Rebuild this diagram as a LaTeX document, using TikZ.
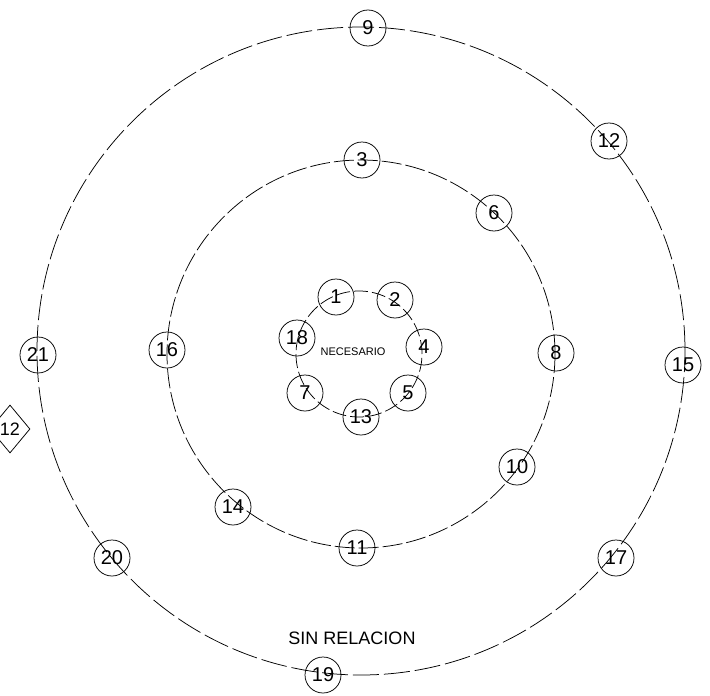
\documentclass[tikz,border=0pt]{standalone}
\usepackage{fontspec}
\setmainfont{Liberation Sans}
\usetikzlibrary{shapes.geometric}
\begin{document}
\begin{tikzpicture}[x=1pt,y=-1pt,
  num/.style={circle,draw,line width=0.75pt,minimum size=36pt,inner sep=0pt,
    font=\fontsize{20}{20}\selectfont},
  ring/.style={line width=0.75pt},
  outerdash/.style={ring,dash pattern=on 26pt off 5pt},
  middash/.style={ring,dash pattern=on 20pt off 4pt},
  innerdash/.style={ring,dash pattern=on 14pt off 4pt},
  lbl/.style={inner sep=0pt}]
\useasboundingbox (0,0) rectangle (710,696);
\clip (0,0) rectangle (710,696);
\fill[white] (0,0) rectangle (710,696);
% centres of the rings
\coordinate (co) at (361,351);
\coordinate (cm) at (361,354);
\coordinate (ci) at (359,354);
\draw[outerdash] (co) circle[radius=324pt];
\draw[middash] (cm) circle[radius=194pt];
\draw[innerdash] (ci) circle[radius=63pt];
% outer ring
\node[num] (n9)  at (368,28)  {9};
\node[num] (n12) at (609,141) {12};
\node[num] (n15) at (683,365) {15};
\node[num] (n17) at (616,558) {17};
\node[num] (n19) at (323,675) {19};
\node[num] (n20) at (112,558) {20};
\node[num] (n21) at (38,355)  {21};
% middle ring
\node[num] (n3)  at (362,160) {3};
\node[num] (n6)  at (494,213) {6};
\node[num] (n8)  at (556,353) {8};
\node[num] (n10) at (517,467) {10};
\node[num] (n11) at (357,548) {11};
\node[num] (n14) at (233,507) {14};
\node[num] (n16) at (167,350) {16};
% inner ring
\node[num] (n1)  at (336,297) {1};
\node[num] (n2)  at (395,300) {2};
\node[num] (n4)  at (424,347) {4};
\node[num] (n5)  at (408,393) {5};
\node[num] (n13) at (361,417) {13};
\node[num] (n7)  at (305,393) {7};
\node[num] (n18) at (297,338) {18};
% labels
\node[lbl,font=\fontsize{11}{11}\selectfont] (nec) at (353,352) {NECESARIO};
\node[lbl,font=\fontsize{18}{18}\selectfont] (sin) at (352,638) {SIN RELACION};
% partial diamond at left edge
\node[diamond,draw,line width=0.75pt,minimum width=40pt,minimum height=48pt,inner sep=0pt,
  font=\fontsize{18}{18}\selectfont] (d12) at (10,429) {12};
\end{tikzpicture}
\end{document}
